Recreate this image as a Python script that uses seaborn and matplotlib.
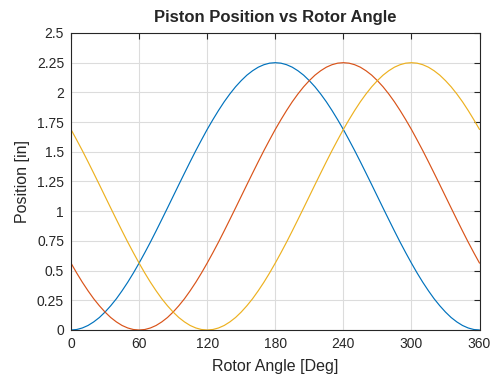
import matplotlib
matplotlib.use("Agg")
import matplotlib.pyplot as plt
import seaborn as sns
import pandas as pd

angle = list(range(0, 361, 5))
piston1 = [0, 0.004, 0.017, 0.038, 0.068, 0.105, 0.151, 0.204, 0.263, 0.330, 0.402, 0.480, 0.563,
           0.650, 0.740, 0.834, 0.930, 1.027, 1.125, 1.223, 1.320, 1.416, 1.510, 1.600, 1.688,
           1.770, 1.848, 1.921, 1.987, 2.047, 2.099, 2.145, 2.182, 2.212, 2.233, 2.246, 2.25,
           2.246, 2.233, 2.212, 2.182, 2.145, 2.099, 2.047, 1.987, 1.921, 1.848, 1.770, 1.688,
           1.600, 1.510, 1.416, 1.320, 1.223, 1.125, 1.027, 0.930, 0.834, 0.740, 0.650, 0.563,
           0.480, 0.402, 0.330, 0.263, 0.204, 0.151, 0.105, 0.068, 0.038, 0.017, 0.004, 0]
piston2 = [0.563, 0.480, 0.402, 0.330, 0.263, 0.204, 0.151, 0.105, 0.068, 0.038, 0.017, 0.004, 0,
           0.004, 0.017, 0.038, 0.068, 0.105, 0.151, 0.204, 0.263, 0.330, 0.402, 0.480, 0.563,
           0.650, 0.740, 0.834, 0.930, 1.027, 1.125, 1.223, 1.320, 1.416, 1.510, 1.600, 1.688,
           1.770, 1.848, 1.921, 1.987, 2.047, 2.099, 2.145, 2.182, 2.212, 2.233, 2.246, 2.25,
           2.246, 2.233, 2.212, 2.182, 2.145, 2.099, 2.047, 1.987, 1.921, 1.848, 1.770, 1.688,
           1.600, 1.510, 1.416, 1.320, 1.223, 1.125, 1.027, 0.930, 0.834, 0.740, 0.650, 0.563]
piston3 = [1.688, 1.600, 1.510, 1.416, 1.320, 1.223, 1.125, 1.027, 0.930, 0.834, 0.740, 0.650, 0.563,
           0.480, 0.402, 0.330, 0.263, 0.204, 0.151, 0.105, 0.068, 0.038, 0.017, 0.004, 0,
           0.004, 0.017, 0.038, 0.068, 0.105, 0.151, 0.204, 0.263, 0.330, 0.402, 0.480, 0.563,
           0.650, 0.740, 0.834, 0.930, 1.027, 1.125, 1.223, 1.320, 1.416, 1.510, 1.600, 1.688,
           1.770, 1.848, 1.921, 1.987, 2.047, 2.099, 2.145, 2.182, 2.212, 2.233, 2.246, 2.25,
           2.246, 2.233, 2.212, 2.182, 2.145, 2.099, 2.047, 1.987, 1.921, 1.848, 1.770, 1.688]
xticks = [0, 60, 120, 180, 240, 300, 360]
yticks = [0, 0.25, 0.5, 0.75, 1, 1.25, 1.5, 1.75, 2, 2.25, 2.5]
ytick_labels = ["0", "0.25", "0.5", "0.75", "1", "1.25", "1.5", "1.75", "2", "2.25", "2.5"]
colors = ["#0072BD", "#D95319", "#EDB120"]

sns.set_style("white")
plt.rcParams["font.family"] = ["Liberation Sans", "DejaVu Sans"]

n = len(angle)
df = pd.DataFrame({"angle": angle * 3,
                   "pos": piston1 + piston2 + piston3,
                   "series": ["p1"] * n + ["p2"] * n + ["p3"] * n})

fig = plt.figure(figsize=(4.91, 3.77), dpi=100)
ax = fig.add_axes([0.1446, 0.1247, 0.9766 - 0.1446, 0.9125 - 0.1247])
sns.lineplot(data=df, x="angle", y="pos", hue="series", palette=colors, linewidth=0.85,
             legend=False, ax=ax, sort=False)

ax.set_xlim(0, 360)
ax.set_ylim(0, 2.5)
ax.set_xticks(xticks)
ax.set_xticklabels([str(t) for t in xticks])
ax.set_yticks(yticks)
ax.set_yticklabels(ytick_labels)
ax.grid(True, color="#dcdcdc", linewidth=0.8)
ax.set_axisbelow(True)
ax.tick_params(direction="in", length=4, width=0.8, colors="#262626", labelsize=10,
               top=True, right=True, pad=5)
for s in ax.spines.values():
    s.set_color("#262626")
    s.set_linewidth(0.8)
ax.set_xlabel("Rotor Angle [Deg]", fontsize=11.5, color="#262626", labelpad=6)
ax.set_ylabel("Position [in]", fontsize=11.5, color="#262626", labelpad=5)
ax.set_title("Piston Position vs Rotor Angle", fontsize=12, fontweight="bold", pad=8)

fig.savefig("out.png", dpi=100)
